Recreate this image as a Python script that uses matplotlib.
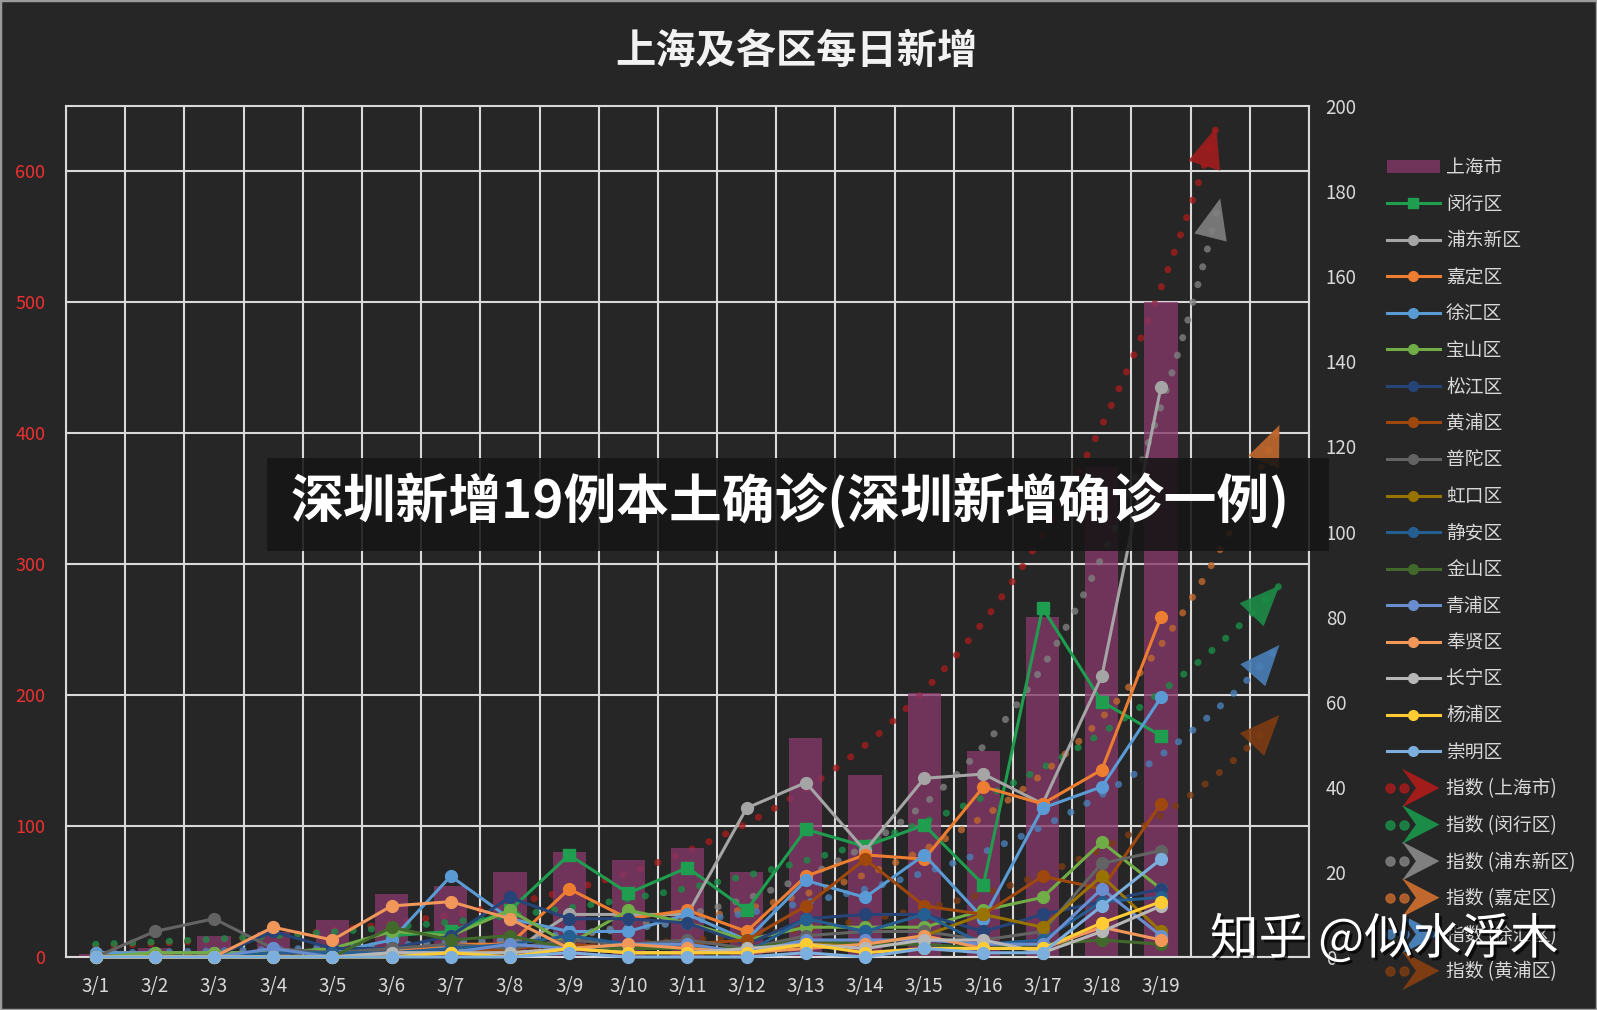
import numpy as np
import matplotlib
matplotlib.use('Agg')
import matplotlib.pyplot as plt
from matplotlib.lines import Line2D
from matplotlib.patches import Patch, Polygon, Rectangle
from matplotlib.legend_handler import HandlerBase
import matplotlib.patheffects as pe

plt.rcParams['font.family'] = ['Noto Sans CJK SC', 'DejaVu Sans']

# ---------------- data ----------------
dates = ['3/1', '3/2', '3/3', '3/4', '3/5', '3/6', '3/7', '3/8', '3/9', '3/10',
         '3/11', '3/12', '3/13', '3/14', '3/15', '3/16', '3/17', '3/18', '3/19']
nan = float('nan')
shanghai = [2, 7, 16, 19, 28, 48, 54, 65, 80, 74, 83, 65, 167, 139, 202, 157, 260, 374, 500]
minhang = [nan, nan, nan, nan, nan, 5, 6, 11, 24, 15, 21, 11, 30, 26, 31, 17, 82, 60, 52]
pudong = [nan, nan, nan, nan, nan, 2, 2, 1, 10, 10, 10, 35, 41, 25, 42, 43, 36, 66, 134]
jiading = [1, 1, 1, 1, 1, 1, 3, 3, 16, 9, 11, 6, 19, 24, 23, 40, 36, 44, 80]
xuhui = [1, 1, 1, 1, 1, 4, 19, 9, 6, 6, 10, 4, 18, 14, 24, 9, 35, 40, 61]
baoshan = [0, 1, 1, 1, 2, 6, 5, 11, 3, 11, 8, 4, 7, 7, 7, 11, 14, 27, 16]
songjiang = [0, 0, 0, 6, 2, 2, 5, 14, 9, 9, 8, 3, 9, 10, 10, 6, 10, 13, 16]
huangpu = [nan, nan, nan, nan, nan, 1, 1, 2, 3, 2, 3, 4, 12, 23, 12, 10, 19, 16, 36]
putuo = [0, 6, 9, 2, 1, 2, 3, 2, 4, 3, 4, 2, 5, 6, 6, 4, 6, 22, 25]
hongkou = [0, 0, 0, 0, 0, 0, 1, 1, 2, 1, 1, 1, 3, 3, 5, 10, 7, 19, 6]
jingan = [0, 0, 0, 1, 1, 1, 2, 3, 5, 3, 3, 1, 9, 6, 10, 3, 4, 13, 14]
jinshan = [0, 0, 0, 0, 0, 7, 4, 5, 2, 2, 2, 2, 4, 3, 3, 2, 3, 4, 3]
qingpu = [0, 0, 0, 2, 0, 1, 1, 3, 2, 3, 3, 1, 4, 4, 4, 3, 3, 16, 5]
fengxian = [0, 0, 0, 7, 4, 12, 13, 9, 2, 3, 2, 1, 2, 3, 5, 2, 2, 7, 4]
changning = [0, 0, 0, 0, 0, 1, 1, 1, 2, 1, 1, 2, 3, 2, 4, 4, 1, 6, 12]
yangpu = [0, 0, 0, 0, 0, 0, 1, 0, 2, 1, 1, 1, 3, 1, 2, 2, 2, 8, 13]
chongming = [0, 0, 0, 0, 0, 0, 0, 0, 1, 0, 0, 0, 1, 0, 2, 1, 1, 12, 23]

district_names = ['闵行区', '浦东新区', '嘉定区', '徐汇区', '宝山区', '松江区', '黄浦区', '普陀区',
                  '虹口区', '静安区', '金山区', '青浦区', '奉贤区', '长宁区', '杨浦区', '崇明区']
district_values = [minhang, pudong, jiading, xuhui, baoshan, songjiang, huangpu, putuo,
                   hongkou, jingan, jinshan, qingpu, fengxian, changning, yangpu, chongming]
district_colors = ['#1f9e50', '#a5a5a5', '#ed7d31', '#5b9bd5', '#70ad47', '#264478', '#9e480e',
                   '#636363', '#997300', '#255e91', '#43682b', '#698ed0', '#f1975a', '#b7b7b7',
                   '#ffcd33', '#7cafdd']

trend_names = ['上海市', '闵行区', '浦东新区', '嘉定区', '徐汇区', '黄浦区']
trend_colors = ['#a31c1c', '#1b8c47', '#808080', '#c0682d', '#4a80b8', '#7d3c12']
trend_end = [20, 21, 20, 21, 21, 21]

BG = '#262626'
GRID = '#d9d9d9'
TXT = '#d9d9d9'
BAR = '#863769'

W, H = 1597, 1010
fig = plt.figure(figsize=(W / 100, H / 100), dpi=100, facecolor=BG)
ax = fig.add_axes([66 / W, 1 - 957 / H, (1309 - 66) / W, (957 - 106) / H])
ax.set_facecolor(BG)
ax2 = ax.twinx()

x = np.arange(1, len(dates) + 1)

# bars
ax.bar(x, shanghai, width=0.56, color=BAR, alpha=0.78, zorder=2)
ax.set_xlim(0.5, 21.5)
ax.set_ylim(0, 650)
ax.set_yticks(np.arange(0, 601, 100))
ax.set_xticks(x)
ax.set_xticklabels(dates)
ax.set_xticks(np.arange(0.5, 21.6, 1), minor=True)
ax.set_axisbelow(True)
ax.grid(which='minor', axis='x', color=GRID, lw=1.5)
ax.grid(which='major', axis='y', color=GRID, lw=1.5)
ax.grid(which='major', axis='x', visible=False)
ax.tick_params(which='both', length=0)
ax.tick_params(axis='y', labelcolor='#f03030', labelsize=13, pad=15)
ax.tick_params(axis='x', labelcolor=TXT, labelsize=13.5, pad=14)
for s in ax.spines.values():
    s.set_color(GRID)
    s.set_linewidth(1.5)

ax2.set_ylim(0, 200)
ax2.set_yticks(np.arange(0, 201, 20))
ax2.tick_params(which='both', length=0)
ax2.tick_params(axis='y', labelcolor=TXT, labelsize=13.5, pad=12)
for s in ax2.spines.values():
    s.set_visible(False)


def exp_fit(vals):
    v = np.array(vals, dtype=float)
    m = np.isfinite(v) & (v > 0)
    b, a = np.polyfit(x[m], np.log(v[m]), 1)
    return a, b


def draw_trend(axis, vals, color, xend, ymax):
    a, b = exp_fit(vals)
    f = lambda t: np.exp(a + b * t)
    xt = xend
    if f(xt) > 0.975 * ymax:
        xt = (np.log(0.975 * ymax) - a) / b
    xs = np.linspace(1, xt, 300)
    axis.plot(xs, f(xs), color=color, lw=5, ls=(0, (0.05, 2.6)),
              dash_capstyle='round', alpha=0.8, zorder=1.5)
    axis.annotate('', xy=(xt, f(xt)), xytext=(xt - 0.12, f(xt - 0.12)),
                  arrowprops=dict(arrowstyle='-|>,head_length=1.45,head_width=0.6',
                                  color=color, lw=0, alpha=0.9, shrinkA=0, shrinkB=0,
                                  mutation_scale=20),
                  annotation_clip=False, zorder=1.6)


# trendline for 上海市 on left axis
draw_trend(ax, shanghai, trend_colors[0], trend_end[0], 650)

# district lines
for name, vals, col in zip(district_names, district_values, district_colors):
    mk = 's' if name == '闵行区' else 'o'
    ax2.plot(x, vals, color=col, lw=2.2, marker=mk, ms=8.5, zorder=3, clip_on=False)

# district trendlines
trend_data = {'闵行区': minhang, '浦东新区': pudong, '嘉定区': jiading, '徐汇区': xuhui, '黄浦区': huangpu}
for name, col, xe in zip(trend_names[1:], trend_colors[1:], trend_end[1:]):
    draw_trend(ax2, trend_data[name], col, xe, 200)


# ---------------- legend ----------------
class TrendHandle:
    def __init__(self, color):
        self.color = color


class TrendHandler(HandlerBase):
    def create_artists(self, legend, orig_handle, xdescent, ydescent, width, height, fontsize, trans):
        c = orig_handle.color
        cy = height / 2 - ydescent
        x0 = -xdescent
        dots = Line2D([x0 + 2, x0 + 12.5], [cy, cy], ls='none', marker='o', ms=6.5,
                      color=c, alpha=0.85, transform=trans)
        tip = x0 + width
        poly = Polygon([[tip, cy], [tip - 27, cy + 14], [tip - 17, cy], [tip - 27, cy - 14]],
                       closed=True, fc=c, ec='none', transform=trans)
        return [dots, poly]


handles = [Patch(fc=BAR, alpha=0.78)]
labels = ['上海市']
for name, col in zip(district_names, district_colors):
    mk = 's' if name == '闵行区' else 'o'
    handles.append(Line2D([], [], color=col, lw=2.2, marker=mk, ms=7))
    labels.append(name)
for name, col in zip(trend_names, trend_colors):
    handles.append(TrendHandle(col))
    labels.append('指数 (' + name + ')')

fig.legend(handles, labels, loc='upper left', bbox_to_anchor=(1387 / W, 1 - 157 / H),
           frameon=False, fontsize=13.5, labelcolor=TXT, handlelength=2.8,
           handletextpad=0.35, labelspacing=0.83, borderpad=0, borderaxespad=0,
           handler_map={TrendHandle: TrendHandler()})

# ---------------- texts ----------------
fig.text(796 / W, 1 - 51 / H, '上海及各区每日新增', ha='center', va='center',
         fontsize=29, fontweight='bold', color='#f2f2f2')

fig.add_artist(Rectangle((267 / W, 1 - 551 / H), 1062 / W, 93 / H, transform=fig.transFigure,
                         fc='#151515', ec='none', alpha=0.88, zorder=10))
fig.text(790 / W, 1 - 501 / H, '深圳新增19例本土确诊(深圳新增确诊一例)', ha='center', va='center',
         fontsize=38, fontweight='bold', color='white', zorder=11)

fig.text(1210 / W, 1 - 940 / H, '知乎 @似水浮木', ha='left', va='center', fontsize=35,
         color='white', zorder=12,
         path_effects=[pe.withSimplePatchShadow(offset=(2, -2), shadow_rgbFace='black', alpha=0.7)])

fig.add_artist(Rectangle((0, 0), 1, 1, transform=fig.transFigure, fill=False,
                         ec='#9a9a9a', lw=2.5, zorder=20))

fig.savefig('out.png', dpi=100, facecolor=BG)
